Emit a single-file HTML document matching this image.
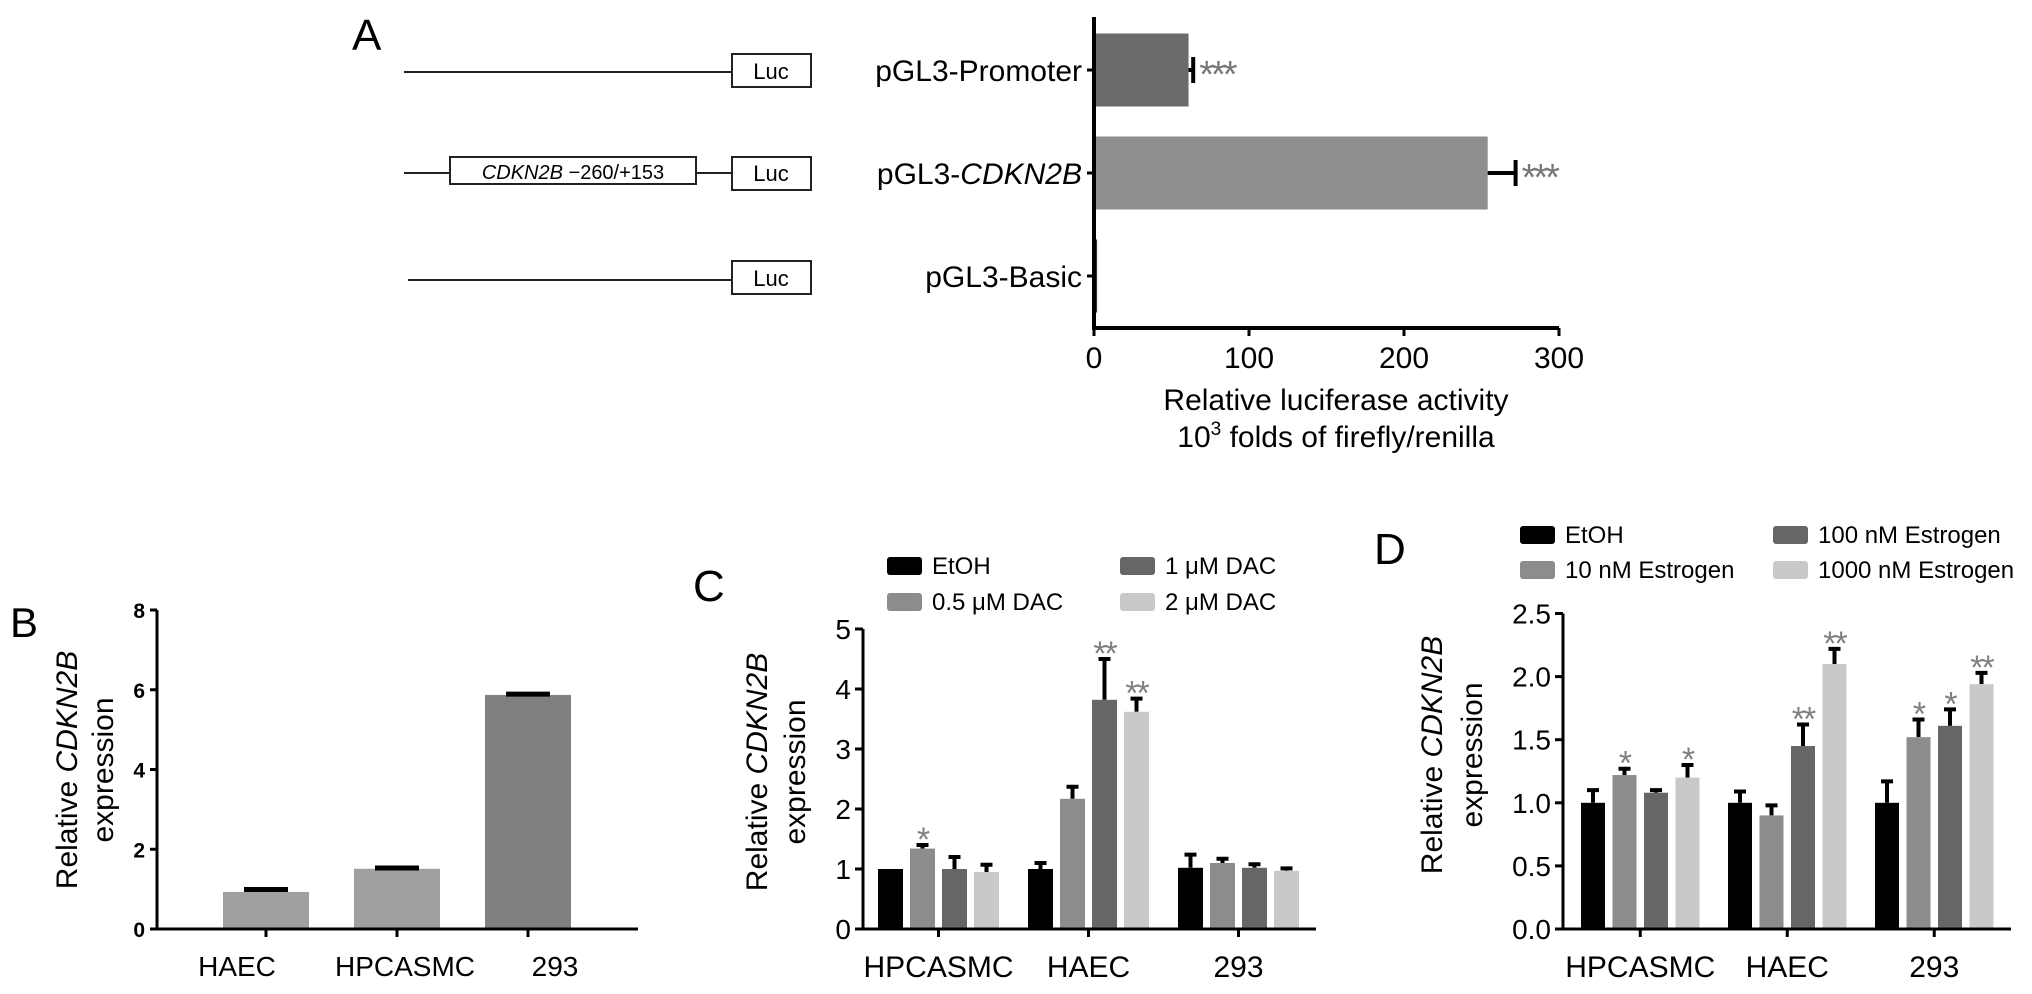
<!DOCTYPE html>
<html><head><meta charset="utf-8">
<style>
html,body{margin:0;padding:0;background:#fff;}
svg{display:block;font-family:"Liberation Sans",Arial,sans-serif;}
</style></head>
<body>
<svg id="fig" width="2032" height="994" viewBox="0 0 2032 994" xmlns="http://www.w3.org/2000/svg">
<rect width="2032" height="994" fill="#fff"/>
<g>
  <text x="352" y="50" font-size="44">A</text>
  <g stroke="#222" stroke-width="2" fill="none">
    <line x1="404" y1="72" x2="732" y2="72"/>
    <rect x="732" y="54" width="79" height="33" fill="#fff"/>
  </g>
  <text x="771" y="79" font-size="22" text-anchor="middle">Luc</text>
  <g stroke="#222" stroke-width="2" fill="none">
    <line x1="404" y1="173" x2="732" y2="173"/>
    <rect x="450" y="157" width="246" height="27" fill="#fff"/>
    <rect x="732" y="157" width="79" height="33" fill="#fff"/>
  </g>
  <text x="573" y="179" font-size="20" text-anchor="middle"><tspan font-style="italic">CDKN2B</tspan> −260/+153</text>
  <text x="771" y="181" font-size="22" text-anchor="middle">Luc</text>
  <g stroke="#222" stroke-width="2" fill="none">
    <line x1="408" y1="280" x2="732" y2="280"/>
    <rect x="732" y="261" width="79" height="33" fill="#fff"/>
  </g>
  <text x="771" y="286" font-size="22" text-anchor="middle">Luc</text>
</g>
<g id="chartA"></g>
<g id="chartB"></g>
<g id="chartC"></g>
<g id="chartD"></g>
</svg>
<script>
const aCategories = ["pGL3-Promoter", "pGL3-CDKN2B", "pGL3-Basic"];
const aValues = [61, 254, 2];
const aErrors = [3, 18, 0];
const aStars = ["***", "***", ""];
const aTicks = [0, 100, 200, 300];

const bCategories = ["HAEC", "HPCASMC", "293"];
const bValues = [0.93, 1.51, 5.87];
const bErrors = [0.06, 0.02, 0.02];
const bTicks = [0, 2, 4, 6, 8];

const cCategories = ["HPCASMC", "HAEC", "293"];
const cSeriesNames = ["EtOH", "0.5 μM DAC", "1 μM DAC", "2 μM DAC"];
const cEtOH = [1.0, 1.0, 1.02];
const cDac05 = [1.34, 2.17, 1.1];
const cDac1 = [1.0, 3.82, 1.02];
const cDac2 = [0.95, 3.62, 0.97];
const cErrEtOH = [0.0, 0.1, 0.22];
const cErrDac05 = [0.06, 0.2, 0.07];
const cErrDac1 = [0.2, 0.68, 0.06];
const cErrDac2 = [0.12, 0.22, 0.04];
const cStarsDac05 = ["*", "", ""];
const cStarsDac1 = ["", "**", ""];
const cStarsDac2 = ["", "**", ""];
const cTicks = [0, 1, 2, 3, 4, 5];

const dCategories = ["HPCASMC", "HAEC", "293"];
const dSeriesNames = ["EtOH", "10 nM Estrogen", "100 nM Estrogen", "1000 nM Estrogen"];
const dEtOH = [1.0, 1.0, 1.0];
const dE10 = [1.22, 0.9, 1.52];
const dE100 = [1.08, 1.45, 1.61];
const dE1000 = [1.2, 2.1, 1.94];
const dErrEtOH = [0.1, 0.09, 0.17];
const dErrE10 = [0.05, 0.08, 0.14];
const dErrE100 = [0.02, 0.17, 0.13];
const dErrE1000 = [0.1, 0.12, 0.09];
const dStarsE10 = ["*", "", "*"];
const dStarsE100 = ["", "**", "*"];
const dStarsE1000 = ["*", "**", "**"];
const dTicks = [0.0, 0.5, 1.0, 1.5, 2.0, 2.5];

const NS = "http://www.w3.org/2000/svg";
function mk(parent, tag, attrs, txt) {
  const e = document.createElementNS(NS, tag);
  for (const k in attrs) e.setAttribute(k, attrs[k]);
  if (txt !== undefined) e.textContent = txt;
  parent.appendChild(e);
  return e;
}

(function () {
  const g = document.getElementById("chartA");
  const x0 = 1094, x1 = 1559, yTop = 17, yAxis = 328, vmax = 300;
  const xs = v => x0 + (v / vmax) * (x1 - x0);
  const rowC = [70, 173, 276], barH = 73;
  const fills = ["#6b6b6b", "#8e8e8e", "#333"];
  aCategories.forEach((c, i) => {
    const yc = rowC[i];
    const bar = mk(g, "rect", {x: x0, y: yc - barH / 2, width: Math.max(2, xs(aValues[i]) - x0), height: barH, fill: fills[i]});
    
    
    if (aErrors[i] > 0) {
      const ex = xs(aValues[i] + aErrors[i]);
      const eb = mk(g, "path", {d: `M${xs(aValues[i])},${yc} H${ex} M${ex},${yc - 13} V${yc + 13}`, stroke: "#000", "stroke-width": 4, fill: "none"});
      
      
    }
    if (aStars[i]) {
      const st = mk(g, "text", {x: xs(aValues[i] + aErrors[i]) + 6, y: yc + 17, "font-size": 38, fill: "#777", "letter-spacing": "-3"}, aStars[i]);
      
      
    }
    const tk = mk(g, "line", {x1: x0 - 7, x2: x0, y1: yc, y2: yc, stroke: "#000", "stroke-width": 3});
    
    
    const lb = mk(g, "text", {x: x0 - 12, y: yc + 11, "font-size": 30, "text-anchor": "end"});
    
    
    if (c === "pGL3-CDKN2B") {
      mk(lb, "tspan", {}, "pGL3-");
      mk(lb, "tspan", {"font-style": "italic"}, "CDKN2B");
    } else lb.textContent = c;
  });
  const ax = mk(g, "path", {d: `M${x0},${yTop} V${yAxis} H${x1}`, stroke: "#000", "stroke-width": 4, fill: "none"});
  
  
  aTicks.forEach(t => {
    const tl = mk(g, "line", {x1: xs(t), x2: xs(t), y1: yAxis, y2: yAxis + 8, stroke: "#000", "stroke-width": 3});
    
    
    const tt = mk(g, "text", {x: xs(t), y: yAxis + 40, "font-size": 30, "text-anchor": "middle"}, String(t));
    
    
  });
  const t1 = mk(g, "text", {x: 1336, y: 410, "font-size": 30, "text-anchor": "middle"}, "Relative luciferase activity");
  
  
  const t2 = mk(g, "text", {x: 1336, y: 447, "font-size": 30, "text-anchor": "middle"});
  
  
  mk(t2, "tspan", {}, "10");
  mk(t2, "tspan", {dy: -12, "font-size": 19}, "3");
  mk(t2, "tspan", {dy: 12}, " folds of firefly/renilla");
})();

function yTitle(g, xa, xb, yc, name) {
  const t = mk(g, "text", {transform: `translate(${xa},${yc}) rotate(-90)`, "font-size": 30, "text-anchor": "middle"});
  
  
  mk(t, "tspan", {}, "Relative ");
  mk(t, "tspan", {"font-style": "italic"}, "CDKN2B");
  const t2 = mk(g, "text", {transform: `translate(${xb},${yc}) rotate(-90)`, "font-size": 30, "text-anchor": "middle"}, "expression");
  
  
}

(function () {
  const g = document.getElementById("chartB");
  const xa = 157, xEnd = 638, y0 = 929, yTopV = 610, vmax = 8;
  const ys = v => y0 - (v / vmax) * (y0 - yTopV);
  const centers = [266, 397, 528], bw = 86;
  const fills = ["#a0a0a0", "#a0a0a0", "#808080"];
  const lbx = [237, 405, 555];
  bCategories.forEach((c, i) => {
    const b = mk(g, "rect", {x: centers[i] - bw / 2, y: ys(bValues[i]), width: bw, height: y0 - ys(bValues[i]), fill: fills[i]});
    
    
    const cap = mk(g, "line", {x1: centers[i] - 22, x2: centers[i] + 22, y1: ys(bValues[i] + bErrors[i]), y2: ys(bValues[i] + bErrors[i]), stroke: "#000", "stroke-width": 5});
    
    
    const tk = mk(g, "line", {x1: centers[i], x2: centers[i], y1: y0, y2: y0 + 8, stroke: "#000", "stroke-width": 3});
    
    
    const lb = mk(g, "text", {x: lbx[i], y: y0 + 47, "font-size": 28, "text-anchor": "middle"}, c);
    
    
  });
  const ax = mk(g, "path", {d: `M${xa},${yTopV} V${y0} H${xEnd}`, stroke: "#000", "stroke-width": 3, fill: "none"});
  
  
  bTicks.forEach(t => {
    const tl = mk(g, "line", {x1: xa - 7, x2: xa, y1: ys(t), y2: ys(t), stroke: "#000", "stroke-width": 3});
    
    
    const tt = mk(g, "text", {x: xa - 12, y: ys(t) + 8, "font-size": 21, "font-weight": "bold", "text-anchor": "end"}, String(t));
    
    
  });
  yTitle(g, 77, 113, 770, 'y-axis-title-b');
  const L = mk(g, "text", {x: 10, y: 637, "font-size": 42}, "B");
  
  
})();

function grouped(g, cfg) {
  const {xa, xEnd, y0, yTopV, vmax, start, pitch, bw, gpitch, cats, series, errs, stars, ticks, fmt, prefix} = cfg;
  const ys = v => y0 - (v / vmax) * (y0 - yTopV);
  const fills = ["#000", "#8c8c8c", "#666", "#c9c9c9"];
  cats.forEach((c, gi) => {
    series.forEach((s, si) => {
      const x = start + gi * gpitch + si * pitch;
      const v = s[gi];
      const cx = x + bw / 2;
      const e = errs[si][gi];
      if (e > 0) {
        const eb = mk(g, "path", {d: `M${cx},${ys(v)} V${ys(v + e)} M${cx - 6},${ys(v + e)} H${cx + 6}`, stroke: "#000", "stroke-width": 4, fill: "none"});
        
        
      }
      const b = mk(g, "rect", {x: x, y: ys(v), width: bw, height: y0 - ys(v), fill: fills[si]});
      
      
      const st = stars[si] ? stars[si][gi] : "";
      if (st) {
        const t = mk(g, "text", {x: cx, y: ys(v + e) + 6, "font-size": 34, fill: "#808080", "text-anchor": "middle", "letter-spacing": "-2"}, st);
        
        
      }
    });
    const gc = start + gi * gpitch + ((series.length - 1) * pitch + bw) / 2;
    const tk = mk(g, "line", {x1: gc, x2: gc, y1: y0, y2: y0 + 8, stroke: "#000", "stroke-width": 3});
    
    
    const lb = mk(g, "text", {x: gc, y: y0 + 48, "font-size": 30, "text-anchor": "middle"}, c);
    
    
  });
  const ax = mk(g, "path", {d: `M${xa},${yTopV} V${y0} H${xEnd}`, stroke: "#000", "stroke-width": 3, fill: "none"});
  
  
  ticks.forEach(t => {
    const tl = mk(g, "line", {x1: xa - 8, x2: xa, y1: ys(t), y2: ys(t), stroke: "#000", "stroke-width": 3});
    
    
    const tt = mk(g, "text", {x: xa - 12, y: ys(t) + 10, "font-size": 28, "text-anchor": "end"}, fmt(t));
    
    
  });
}
function legend(g, names, pos, prefix) {
  const fills = ["#000", "#8c8c8c", "#666", "#c9c9c9"];
  names.forEach((n, i) => {
    const p = pos[i];
    const r = mk(g, "rect", {x: p[0], y: p[1], width: 35, height: 18, rx: 3, fill: fills[i]});
    
    
    const t = mk(g, "text", {x: p[0] + 45, y: p[1] + 17, "font-size": 24}, n);
    
    
  });
}

(function () {
  const g = document.getElementById("chartC");
  grouped(g, {xa: 863, xEnd: 1316, y0: 929, yTopV: 629, vmax: 5, start: 878, pitch: 32, bw: 25, gpitch: 150,
    cats: cCategories, series: [cEtOH, cDac05, cDac1, cDac2], errs: [cErrEtOH, cErrDac05, cErrDac1, cErrDac2],
    stars: [null, cStarsDac05, cStarsDac1, cStarsDac2], ticks: cTicks, fmt: t => String(t), prefix: 'c'});
  legend(g, cSeriesNames, [[887, 557], [887, 593], [1120, 557], [1120, 593]], 'c');
  yTitle(g, 767, 805, 772, 'y-axis-title-c');
  const L = mk(g, "text", {x: 693, y: 601, "font-size": 44}, "C");
  
  
})();

(function () {
  const g = document.getElementById("chartD");
  grouped(g, {xa: 1563, xEnd: 2011, y0: 929, yTopV: 613.5, vmax: 2.5, start: 1581, pitch: 31.5, bw: 24, gpitch: 147,
    cats: dCategories, series: [dEtOH, dE10, dE100, dE1000], errs: [dErrEtOH, dErrE10, dErrE100, dErrE1000],
    stars: [null, dStarsE10, dStarsE100, dStarsE1000], ticks: dTicks, fmt: t => t.toFixed(1), prefix: 'd'});
  legend(g, dSeriesNames, [[1520, 526], [1520, 561], [1773, 526], [1773, 561]], 'd');
  yTitle(g, 1442, 1482, 755, 'y-axis-title-d');
  const L = mk(g, "text", {x: 1374, y: 564, "font-size": 44}, "D");
  
  
})();
</script>
</body></html>
